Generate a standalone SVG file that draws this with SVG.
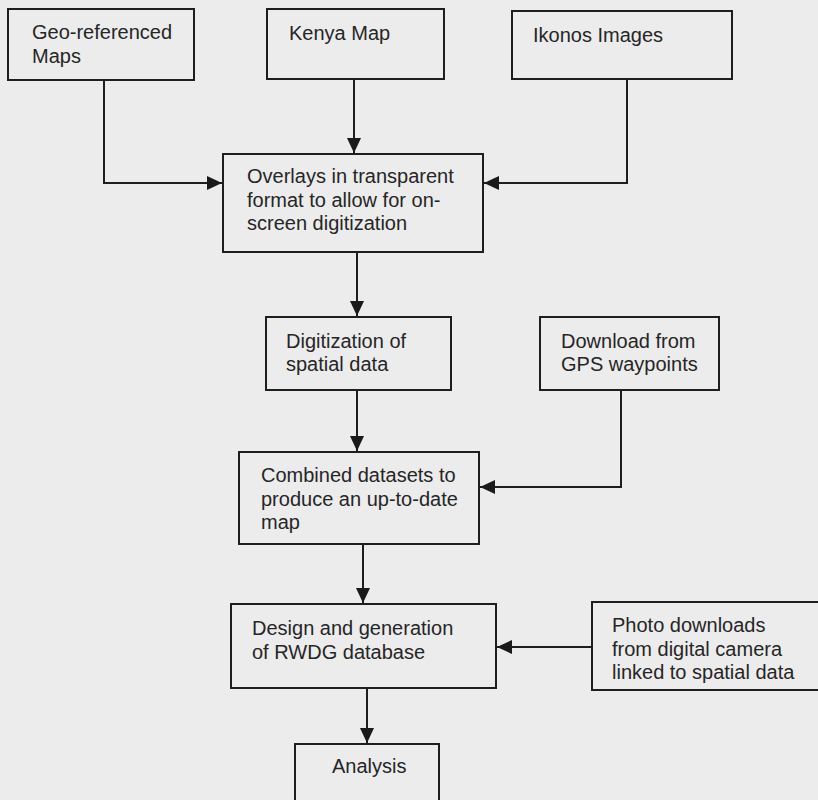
<svg xmlns="http://www.w3.org/2000/svg" width="818" height="800" viewBox="0 0 818 800">
  <style>
    .box { fill: none; stroke: #1e1e1e; stroke-width: 2; }
    .lbl { font-family: "Liberation Sans", Arial, sans-serif; font-size: 20px; fill: #262626; }
    .wire { fill: none; stroke: #1e1e1e; stroke-width: 2; }
  </style>
  <defs>
    <marker id="head" markerUnits="userSpaceOnUse" markerWidth="16" markerHeight="16" viewBox="0 0 16 16" refX="15" refY="8" orient="auto">
      <path d="M0,1 L15,8 L0,15 Z" fill="#1a1a1a"/>
    </marker>
  </defs>

  <!-- paper -->
  <rect x="0" y="0" width="818" height="800" fill="#ececec"/>

  <!-- flow lines -->
  <g id="connectors">
    <path class="wire" d="M104,80 V183 H222" marker-end="url(#head)"/>
    <path class="wire" d="M354,79 V153" marker-end="url(#head)"/>
    <path class="wire" d="M627,79 V183 H484" marker-end="url(#head)"/>
    <path class="wire" d="M357,252 V316" marker-end="url(#head)"/>
    <path class="wire" d="M357,390 V451" marker-end="url(#head)"/>
    <path class="wire" d="M621,390 V487 H480" marker-end="url(#head)"/>
    <path class="wire" d="M363,544 V603" marker-end="url(#head)"/>
    <path class="wire" d="M592,647 H497" marker-end="url(#head)"/>
    <path class="wire" d="M367,688 V743" marker-end="url(#head)"/>
  </g>

  <g id="geo-maps">
    <rect class="box" x="8" y="9" width="186" height="71"/>
    <text class="lbl" x="32" y="39">Geo-referenced</text>
    <text class="lbl" x="32" y="63">Maps</text>
  </g>

  <g id="kenya-map">
    <rect class="box" x="267" y="9" width="177" height="70"/>
    <text class="lbl" x="289" y="40">Kenya Map</text>
  </g>

  <g id="ikonos">
    <rect class="box" x="512" y="11" width="220" height="68"/>
    <text class="lbl" x="533" y="42">Ikonos Images</text>
  </g>

  <g id="overlays">
    <rect class="box" x="223" y="154" width="260" height="98"/>
    <text class="lbl" x="247" y="183">Overlays in transparent</text>
    <text class="lbl" x="247" y="206.5">format to allow for on-</text>
    <text class="lbl" x="247" y="230">screen digitization</text>
  </g>

  <g id="digitization">
    <rect class="box" x="266" y="317" width="185" height="73"/>
    <text class="lbl" x="286" y="348">Digitization of</text>
    <text class="lbl" x="286" y="371">spatial data</text>
  </g>

  <g id="gps">
    <rect class="box" x="540" y="317" width="179" height="73"/>
    <text class="lbl" x="561" y="348">Download from</text>
    <text class="lbl" x="561" y="371">GPS waypoints</text>
  </g>

  <g id="combined">
    <rect class="box" x="239" y="452" width="240" height="92"/>
    <text class="lbl" x="261" y="482">Combined datasets to</text>
    <text class="lbl" x="261" y="505.5">produce an up-to-date</text>
    <text class="lbl" x="261" y="529">map</text>
  </g>

  <g id="database">
    <rect class="box" x="231" y="604" width="265" height="84"/>
    <text class="lbl" x="252" y="635">Design and generation</text>
    <text class="lbl" x="252" y="659">of RWDG database</text>
  </g>

  <g id="photos">
    <rect class="box" x="592" y="602" width="240" height="88"/>
    <text class="lbl" x="612" y="632">Photo downloads</text>
    <text class="lbl" x="612" y="655.5">from digital camera</text>
    <text class="lbl" x="612" y="679">linked to spatial data</text>
  </g>

  <g id="analysis">
    <rect class="box" x="295" y="744" width="144" height="70"/>
    <text class="lbl" x="332" y="773">Analysis</text>
  </g>
</svg>
